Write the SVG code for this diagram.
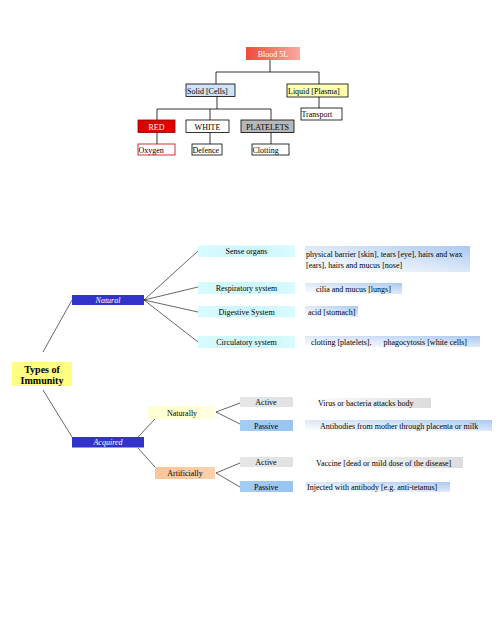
<svg xmlns="http://www.w3.org/2000/svg" width="504" height="618" viewBox="0 0 504 618">
<defs>
<linearGradient id="gRed" x1="0" y1="0" x2="1" y2="0"><stop offset="0" stop-color="#f04a3a"/><stop offset="1" stop-color="#f9aaa0"/></linearGradient>
<linearGradient id="gCyan" x1="0" y1="0" x2="1" y2="0"><stop offset="0" stop-color="#d8fbff"/><stop offset="0.5" stop-color="#ccf6fb"/><stop offset="1" stop-color="#d8fbff"/></linearGradient>
<linearGradient id="gBlue" x1="0" y1="1" x2="1" y2="0"><stop offset="0" stop-color="#ffffff"/><stop offset="0.5" stop-color="#dce8f8"/><stop offset="1" stop-color="#a9c9f2"/></linearGradient>
<linearGradient id="gGray" x1="0" y1="0" x2="1" y2="0"><stop offset="0" stop-color="#ffffff"/><stop offset="1" stop-color="#dcdcdc"/></linearGradient>
<linearGradient id="gAct" x1="0" y1="0" x2="1" y2="0"><stop offset="0" stop-color="#e6e6e6"/><stop offset="1" stop-color="#e2e2e2"/></linearGradient>
<linearGradient id="gPas" x1="0" y1="0" x2="1" y2="0"><stop offset="0" stop-color="#a4cdf6"/><stop offset="1" stop-color="#98c4f2"/></linearGradient>
<linearGradient id="gYel" x1="0" y1="0" x2="1" y2="0"><stop offset="0" stop-color="#ffffd8"/><stop offset="0.5" stop-color="#ffffcc"/><stop offset="1" stop-color="#ffffe4"/></linearGradient>
<linearGradient id="gPeach" x1="0" y1="0" x2="1" y2="0"><stop offset="0" stop-color="#fcc49a"/><stop offset="1" stop-color="#fdd0ac"/></linearGradient>
</defs>
<style>
text{font-family:"Liberation Serif","Times New Roman",serif;font-size:8px;fill:#000}
.c{text-anchor:middle}
.w{fill:#fff}
.bx{stroke:#000;stroke-width:0.8}
.ln{stroke:#000;stroke-width:0.8;fill:none}
.tl{stroke:#000;stroke-width:0.6;fill:none}
.big{font-size:10px;font-weight:bold}
</style>
<rect width="504" height="618" fill="#fff"/>
<g id="connectors">
<path class="ln" d="M270,60 V72 M216,72 H319 M216,72 V84 M319,72 V84 M319,97 V108 M217,96 V109 M157,109 H271 M157,109 V120 M210,109 V120 M271,109 V120 M157,132 V144 M210,132 V144 M271,132 V144"/>
<path class="tl" d="M43,352 L72,300 M43,390 L72,437 M144,300 L198,251 M144,300 L198,287 M144,300 L198,312 M144,300 L198,342 M138,437 L155,419 M138,448 L155,467 M216,412 L240,403 M216,412 L240,424 M216,473 L240,463 M216,473 L240,487"/>
</g>
<g id="blood"><rect x="246" y="47" width="54" height="13" fill="url(#gRed)"/><text class="c w" x="273" y="56.5">Blood  5L</text></g>
<g id="solid"><rect class="bx" x="186" y="84" width="49" height="12.5" fill="#cfe2fb"/><text x="187" y="93.5">Solid [Cells]</text></g>
<g id="liquid"><rect class="bx" x="287" y="84" width="61" height="13" fill="#ffffb0"/><text x="288" y="93.5">Liquid  [Plasma]</text></g>
<g id="transport"><rect class="bx" x="301" y="108" width="41" height="12" fill="#fff"/><text x="301.5" y="117">Transport</text></g>
<g id="red"><rect x="138" y="120" width="37" height="12.5" fill="#e00000" stroke="#900000" stroke-width="0.8"/><text class="c w" x="156.5" y="129.5">RED</text></g>
<g id="white"><rect class="bx" x="186" y="120" width="43" height="12.5" fill="#fff"/><text class="c" x="207.5" y="129.5">WHITE</text></g>
<g id="platelets"><rect class="bx" x="241" y="120" width="53" height="12.5" fill="#b8b8b8"/><text class="c" x="267.5" y="129.5">PLATELETS</text></g>
<g id="oxygen"><rect x="138" y="144" width="37" height="11" fill="#fff" stroke="#c00000" stroke-width="0.8"/><text x="138.5" y="153">Oxygen</text></g>
<g id="defence"><rect class="bx" x="192" y="144" width="30" height="11" fill="#fff"/><text x="192.5" y="153">Defence</text></g>
<g id="clotting"><rect class="bx" x="252" y="144" width="37" height="11" fill="#fff"/><text x="252.5" y="153">Clotting</text></g>
<g id="types"><rect x="12" y="362" width="60" height="24" fill="#ffff80"/><text class="c big" x="42" y="372.5">Types of</text><text class="c big" x="42" y="383.5">Immunity</text></g>
<g id="natural"><rect x="72" y="295" width="72" height="10" fill="#3333cc"/><text class="c w" x="108" y="303" font-style="italic">Natural</text></g>
<g id="acquired"><rect x="72" y="437" width="72" height="10.5" fill="#3333cc"/><text class="c w" x="108" y="445" font-style="italic">Acquired</text></g>
<g id="sense"><rect x="198" y="245.5" width="97" height="11.5" fill="url(#gCyan)"/><text class="c" x="246.5" y="254">Sense organs</text></g>
<g id="respiratory"><rect x="198" y="282" width="97" height="12" fill="url(#gCyan)"/><text class="c" x="246.5" y="291">Respiratory system</text></g>
<g id="digestive"><rect x="198" y="306" width="97" height="11.5" fill="url(#gCyan)"/><text class="c" x="246.5" y="315">Digestive System</text></g>
<g id="circulatory"><rect x="198" y="336" width="97" height="12" fill="url(#gCyan)"/><text class="c" x="246.5" y="345">Circulatory system</text></g>
<g id="d-sense"><rect x="305" y="246" width="165" height="26" fill="url(#gBlue)"/><text x="306" y="256.5">physical barrier [skin], tears [eye], hairs and  wax</text><text x="306" y="267.5">[ears], hairs  and mucus [nose]</text></g>
<g id="d-resp"><rect x="305" y="283" width="97" height="11" fill="url(#gBlue)"/><text x="316" y="291.5">cilia and mucus [lungs]</text></g>
<g id="d-dig"><rect x="305" y="306" width="53" height="11" fill="url(#gBlue)"/><text x="308" y="315">acid [stomach]</text></g>
<g id="d-circ"><rect x="305" y="336" width="175" height="11" fill="url(#gBlue)"/><text x="311" y="345" xml:space="preserve">clotting [platelets],      phagocytosis [white cells]</text></g>
<g id="naturally"><rect x="148" y="406" width="67" height="13" fill="url(#gYel)"/><text class="c" x="182" y="415.5">Naturally</text></g>
<g id="artificially"><rect x="155" y="467" width="60" height="12" fill="url(#gPeach)"/><text class="c" x="185" y="476">Artificially</text></g>
<g id="active1"><rect x="240" y="397" width="53" height="10" fill="url(#gAct)"/><text class="c" x="266" y="405">Active</text></g>
<g id="passive1"><rect x="240" y="420" width="53" height="11" fill="url(#gPas)"/><text class="c" x="266" y="428.5">Passive</text></g>
<g id="active2"><rect x="240" y="457" width="53" height="10" fill="url(#gAct)"/><text class="c" x="266" y="465">Active</text></g>
<g id="passive2"><rect x="240" y="481" width="53" height="11" fill="url(#gPas)"/><text class="c" x="266" y="489.5">Passive</text></g>
<g id="d-virus"><rect x="305" y="398" width="126" height="10" fill="url(#gGray)"/><text x="318" y="406">Virus or bacteria attacks body</text></g>
<g id="d-mother"><rect x="305" y="420" width="187" height="11" fill="url(#gBlue)"/><text x="320" y="428.5">Antibodies from mother through placenta or milk</text></g>
<g id="d-vaccine"><rect x="305" y="457" width="158" height="11" fill="url(#gGray)"/><text x="316" y="465.5">Vaccine [dead or mild dose of the disease]</text></g>
<g id="d-inject"><rect x="305" y="482" width="145" height="10" fill="url(#gBlue)"/><text x="307" y="490">Injected with antibody [e.g. anti-tetanus]</text></g>
</svg>
